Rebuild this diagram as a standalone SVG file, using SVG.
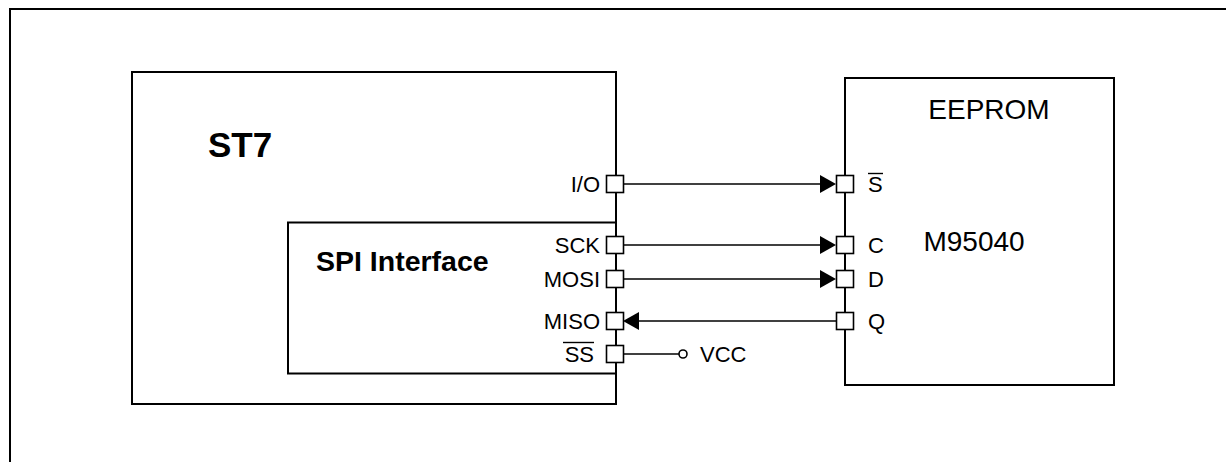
<svg xmlns="http://www.w3.org/2000/svg" width="1226" height="462" viewBox="0 0 1226 462">
<style>
.box{fill:none;stroke:#000;stroke-width:2}
.pin{fill:#fff;stroke:#000;stroke-width:1.6}
.wire{fill:none;stroke:#000;stroke-width:1.6}
.bar{stroke:#000;stroke-width:1.4}
.t{font-family:"Liberation Sans",Arial,sans-serif;font-size:22px;fill:#000}
.big{font-family:"Liberation Sans",Arial,sans-serif;font-size:28px;fill:#000}
.b{font-family:"Liberation Sans",Arial,sans-serif;font-weight:bold;fill:#000}
.b1{font-size:35px}
.b2{font-size:28.5px}
</style>
<rect width="1226" height="462" fill="#fff"/>
<rect x="10" y="9" width="1240" height="480" class="box"/>
<g id="st7">
<rect x="132" y="72" width="484" height="332" class="box"/>
<text x="208" y="157" class="b b1">ST7</text>
</g>
<g id="spi">
<rect x="288" y="222.5" width="328" height="151" class="box"/>
<text x="316" y="271" class="b b2">SPI Interface</text>
</g>
<g id="eeprom">
<rect x="845" y="78" width="269" height="307" class="box"/>
<text x="989" y="119" class="big" text-anchor="middle">EEPROM</text>
<text x="974" y="251" class="big" text-anchor="middle">M95040</text>
</g>
<g id="connectors">
<line x1="623" y1="184" x2="820" y2="184" class="wire"/>
<path d="M820,175 L836,184 L820,193 z"/>
<line x1="623" y1="245" x2="820" y2="245" class="wire"/>
<path d="M820,236 L836,245 L820,254 z"/>
<line x1="623" y1="279" x2="820" y2="279" class="wire"/>
<path d="M820,270 L836,279 L820,288 z"/>
<line x1="639" y1="321" x2="836" y2="321" class="wire"/>
<path d="M639,312 L623,321 L639,330 z"/>
<line x1="623" y1="354" x2="679" y2="354" class="wire"/>
<circle cx="683" cy="354" r="4" fill="#fff" stroke="#000" stroke-width="1.6"/>
</g>
<g id="st7-pins">
<rect x="606.5" y="175.5" width="17" height="17" class="pin"/>
<rect x="606.5" y="236.5" width="17" height="17" class="pin"/>
<rect x="606.5" y="270.5" width="17" height="17" class="pin"/>
<rect x="606.5" y="312.5" width="17" height="17" class="pin"/>
<rect x="606.5" y="345.5" width="17" height="17" class="pin"/>
<text x="600" y="192" class="t" text-anchor="end">I/O</text>
<text x="600" y="253" class="t" text-anchor="end">SCK</text>
<text x="600" y="287" class="t" text-anchor="end">MOSI</text>
<text x="600" y="329" class="t" text-anchor="end">MISO</text>
<text x="594" y="362" class="t" text-anchor="end">SS</text>
<line x1="563" y1="342.5" x2="594" y2="342.5" class="bar"/>
<text x="700" y="362" class="t">VCC</text>
</g>
<g id="eeprom-pins">
<rect x="836.5" y="175.5" width="17" height="17" class="pin"/>
<rect x="836.5" y="236.5" width="17" height="17" class="pin"/>
<rect x="836.5" y="270.5" width="17" height="17" class="pin"/>
<rect x="836.5" y="312.5" width="17" height="17" class="pin"/>
<text x="868" y="192" class="t">S</text>
<line x1="868" y1="173.5" x2="883" y2="173.5" class="bar"/>
<text x="868" y="253" class="t">C</text>
<text x="868" y="287" class="t">D</text>
<text x="868" y="329" class="t">Q</text>
</g>
</svg>
